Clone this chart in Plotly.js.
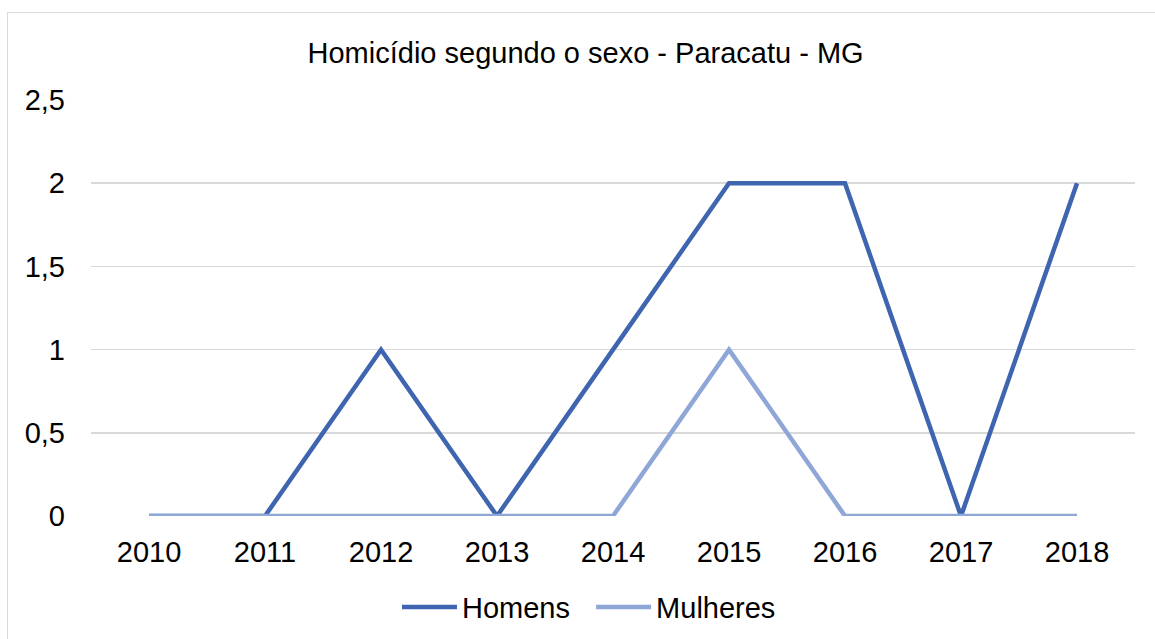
<!DOCTYPE html>
<html>
<head>
<meta charset="utf-8">
<script src="https://cdn.plot.ly/plotly-3.0.1.min.js"></script>
<style>
html,body{margin:0;padding:0;background:#fff;}
#wrap{position:relative;width:1155px;height:639px;overflow:hidden;}
#chart{width:1155px;height:639px;}
#frame{position:absolute;left:7px;top:12px;width:1160px;height:640px;border:1px solid #d9d9d9;pointer-events:none;}
</style>
</head>
<body>
<div id="wrap"><div id="chart"></div><div id="frame"></div></div>
<script>
const years = ['2010','2011','2012','2013','2014','2015','2016','2017','2018'];
const homens = [0,0,1,0,1,2,2,0,2];
const mulheres = [0,0,0,0,0,1,0,0,0];
const seriesNames = ['Homens\u00a0\u00a0', 'Mulheres'];
const titleText = 'Homicídio segundo o sexo - Paracatu - MG';
const font = 'Arial, "Liberation Sans", sans-serif';
const fs = 29;

const traces = [
  {x: years, y: homens, name: seriesNames[0], type: 'scatter', mode: 'lines',
   line: {color: '#3F65B0', width: 4.5}},
  {x: years, y: mulheres, name: seriesNames[1], type: 'scatter', mode: 'lines',
   line: {color: '#8FA7D6', width: 4.5}}
];

const layout = {
  width: 1155, height: 639,
  paper_bgcolor: '#fff', plot_bgcolor: '#fff',
  separators: ',.',
  margin: {l: 91, r: 20, t: 100, b: 123},
  title: {text: titleText, font: {family: font, size: fs, color: '#000'},
          x: 0.507, xanchor: 'center', y: 0.918, yanchor: 'middle'},
  xaxis: {type: 'category', range: [-0.5, 8.5], showgrid: false, zeroline: false,
          showline: false, ticks: '', tickfont: {family: font, size: fs, color: '#000'},
          ticklabelstandoff: 16},
  yaxis: {range: [0, 2.5], dtick: 0.5, tick0: 0, showgrid: true, gridcolor: '#d9d9d9', gridwidth: 1.5,
          zeroline: false, showline: false, ticks: '',
          tickfont: {family: font, size: fs, color: '#000'}, ticklabelstandoff: 25},
  showlegend: true,
  legend: {orientation: 'h', x: 0.477, xanchor: 'center', yref: 'container', y: 0.05, yanchor: 'middle',
           font: {family: font, size: fs, color: '#000'}, itemwidth: 55, tracegroupgap: 0},
  hovermode: false
};

Plotly.newPlot('chart', traces, layout, {displayModeBar: false, staticPlot: true});
</script>
</body>
</html>
